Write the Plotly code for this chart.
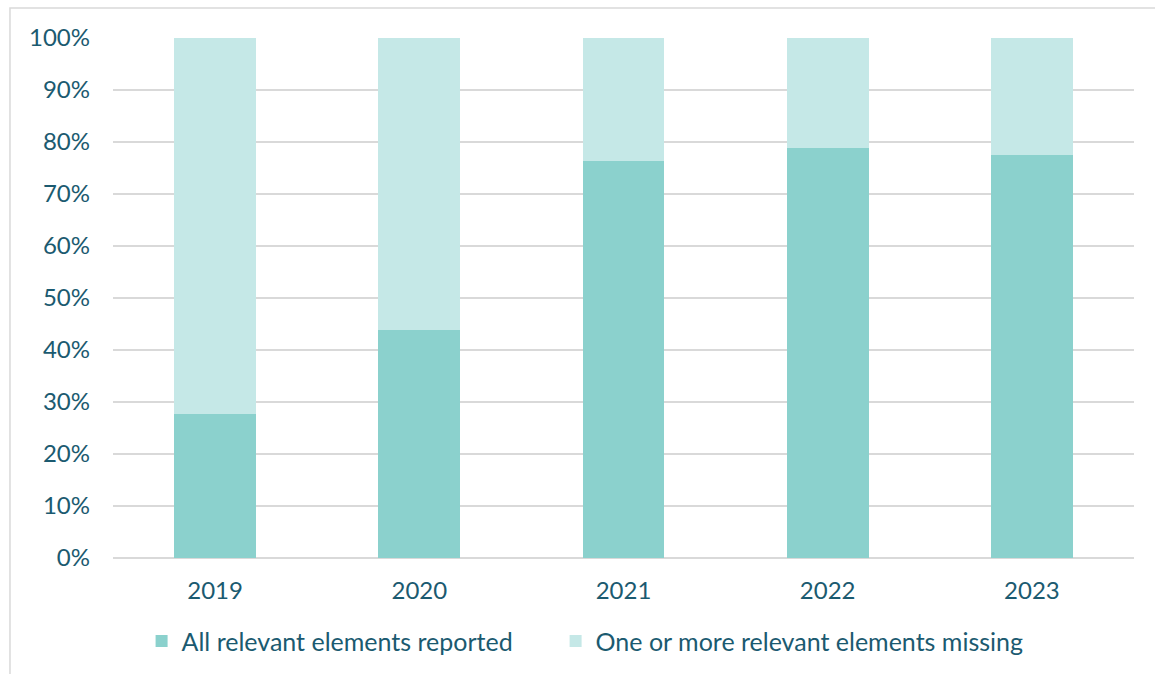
import plotly.graph_objects as go

years = ["2019", "2020", "2021", "2022", "2023"]
all_reported = [27.7, 43.8, 76.3, 78.8, 77.5]
missing = [100 - v for v in all_reported]
y_ticks = [0, 10, 20, 30, 40, 50, 60, 70, 80, 90, 100]
y_tick_labels = [f"{t}%" for t in y_ticks]

text_color = "#1B5A70"
font_family = "Lato, 'Noto Sans', sans-serif"

fig = go.Figure()
fig.add_trace(go.Bar(
    x=years, y=all_reported, name="All relevant elements reported",
    marker=dict(color="#8BD1CD", line=dict(width=0)), legend="legend",
    showlegend=True,
))
fig.add_trace(go.Bar(
    x=years, y=missing, name="One or more relevant elements missing",
    marker=dict(color="#C5E8E7", line=dict(width=0)), legend="legend2",
    showlegend=True,
))

legend_common = dict(
    orientation="h", xanchor="left", y=-0.116, yanchor="top",
    font=dict(size=25, color=text_color), itemwidth=30,
    bgcolor="rgba(0,0,0,0)", visible=True,
)

fig.update_layout(
    showlegend=True,
    barmode="stack",
    bargap=0.6,
    width=1155, height=674,
    margin=dict(l=113, r=21, t=38, b=116, autoexpand=False),
    paper_bgcolor="white",
    plot_bgcolor="white",
    font=dict(family=font_family, color=text_color, size=24),
    legend=dict(x=0.028, **legend_common),
    legend2=dict(x=0.4335, **legend_common),
    xaxis=dict(showgrid=False, showline=False, ticks="", tickfont=dict(size=24),
               ticklabelstandoff=16),
    yaxis=dict(
        range=[0, 100], tickvals=y_ticks, ticktext=y_tick_labels,
        showgrid=True, gridcolor="#D9D9D9", gridwidth=1.5,
        zeroline=True, zerolinecolor="#D9D9D9", zerolinewidth=1.5,
        ticks="", ticklen=0, tickfont=dict(size=24), ticklabelstandoff=22,
    ),
    shapes=[dict(
        type="rect", xref="paper", yref="paper",
        x0=-0.1009, x1=1.2, y0=-0.5, y1=1.0577,
        line=dict(color="#D9D9D9", width=1.5), fillcolor="rgba(0,0,0,0)",
        layer="below",
    )],
)

fig.write_html("out.html")
